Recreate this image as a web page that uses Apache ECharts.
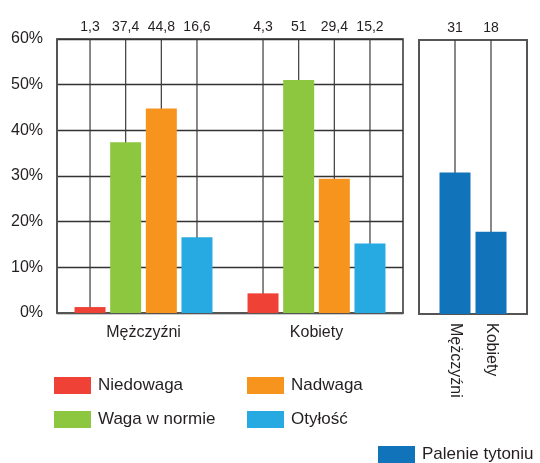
<!DOCTYPE html>
<html>
<head>
<meta charset="utf-8">
<script src="https://cdn.jsdelivr.net/npm/echarts@6/dist/echarts.min.js"></script>
<style>
  html, body { margin: 0; padding: 0; background: #fff; }
  #chart { width: 540px; height: 463px; }
</style>
</head>
<body>
<div id="chart"></div>
<script>
// Groups and weight categories (percent)
const groups = ['Mężczyźni', 'Kobiety'];
const weightNames = ['Niedowaga', 'Waga w normie', 'Nadwaga', 'Otyłość'];
const niedowaga = [1.3, 4.3];
const wagaWNormie = [37.4, 51];
const nadwaga = [44.8, 29.4];
const otylosc = [16.6, 15.2];

// Smoking panel (percent)
const smokingName = 'Palenie tytoniu';
const smokingGroups = ['Mężczyźni', 'Kobiety'];
const palenie = [31, 18];

// Value axis
const yMin = 0;
const yMax = 60;
const yStep = 10;

const weightValues = [niedowaga, wagaWNormie, nadwaga, otylosc];
const weightColors = ['#EF4136', '#8DC63F', '#F7941D', '#27AAE1'];
const smokingColor = '#1173BA';
const FONT = "'Liberation Sans', Arial, sans-serif";
const TEXT = '#231F20';
const BAR_W = 31;
const BAR_GAP = 0.15;
const SLOT = BAR_W * (1 + BAR_GAP);

const fmt = v => String(v).replace('.', ',');

// leader lines from the top labels down to each bar
const leaderData = [];
groups.forEach((g, gi) => {
  weightValues.forEach((arr, si) => leaderData.push([gi, si, arr[gi]]));
});

function leaderItem(offsetFn, yTopMax) {
  return function (params, api) {
    const cat = api.value(0);
    const s = api.value(1);
    const v = api.value(2);
    const base = api.coord([cat, yMin]);
    const top = api.coord([cat, yTopMax]);
    const x = base[0] + offsetFn(s);
    return {
      type: 'group',
      children: [
        {
          type: 'line',
          shape: { x1: x, y1: top[1], x2: x, y2: base[1] },
          style: { stroke: '#3a3a3a', lineWidth: 1.2 }
        },
        {
          type: 'text',
          style: {
            text: fmt(v), x: x, y: top[1] - 12,
            fill: TEXT, fontSize: 14, fontFamily: FONT,
            align: 'center', verticalAlign: 'middle'
          }
        }
      ]
    };
  };
}

// smoking panel: index 0 and 3 are padding slots on the edges
const smokingCats = [''].concat(smokingGroups, ['']);
const smokingBars = [null].concat(palenie, [null]);
const smokingLeader = palenie.map((v, i) => [i + 1, 0, v]);

const series = weightNames.map((name, si) => ({
  name: name,
  type: 'bar',
  xAxisIndex: 0,
  yAxisIndex: 0,
  data: weightValues[si],
  barWidth: BAR_W,
  barGap: (BAR_GAP * 100) + '%',
  itemStyle: { color: weightColors[si] },
  z: 3
}));

series.push({
  type: 'custom',
  xAxisIndex: 0,
  yAxisIndex: 0,
  data: leaderData,
  renderItem: leaderItem(s => (s - 1.5) * SLOT, yMax),
  clip: false,
  silent: true,
  z: 2
});

series.push({
  name: smokingName,
  type: 'bar',
  xAxisIndex: 1,
  yAxisIndex: 1,
  data: smokingBars,
  barWidth: BAR_W,
  itemStyle: { color: smokingColor },
  z: 3
});

series.push({
  type: 'custom',
  xAxisIndex: 1,
  yAxisIndex: 1,
  data: smokingLeader,
  renderItem: leaderItem(() => 0, yMax),
  clip: false,
  silent: true,
  z: 2
});

const legendBase = {
  orient: 'vertical',
  icon: 'rect',
  padding: 0,
  itemWidth: 37,
  itemHeight: 17,
  itemGap: 17,
  selectedMode: false,
  textStyle: { color: TEXT, fontSize: 17, fontFamily: FONT, padding: [0, 0, 0, 2] }
};

const option = {
  animation: false,
  textStyle: { fontFamily: FONT },
  grid: [
    { left: 57, top: 39, width: 346, height: 274, show: true, borderColor: '#333', borderWidth: 1.5 },
    { left: 419, top: 40, width: 108, height: 274, show: true, borderColor: '#555', borderWidth: 2 }
  ],
  xAxis: [
    {
      gridIndex: 0,
      type: 'category',
      data: groups,
      axisLine: { show: true, lineStyle: { color: '#555', width: 2 } },
      axisTick: { show: false },
      axisLabel: { color: TEXT, fontSize: 16, fontFamily: FONT, margin: 12 }
    },
    {
      gridIndex: 1,
      type: 'category',
      data: smokingCats,
      boundaryGap: false,
      axisLine: { show: true, lineStyle: { color: '#555', width: 2 } },
      axisTick: { show: false },
      axisLabel: { color: TEXT, fontSize: 16, fontFamily: FONT, rotate: -90, margin: 9, interval: 0 }
    }
  ],
  yAxis: [
    {
      gridIndex: 0,
      type: 'value',
      min: yMin,
      max: yMax,
      interval: yStep,
      axisLine: { show: true, lineStyle: { color: '#555', width: 2 } },
      axisTick: { show: false },
      axisLabel: { color: TEXT, fontSize: 16, fontFamily: FONT, margin: 14, formatter: '{value}%' },
      splitLine: { show: true, lineStyle: { color: '#333', width: 1.3 } }
    },
    {
      gridIndex: 1,
      type: 'value',
      min: yMin,
      max: yMax,
      interval: yStep,
      axisLine: { show: false },
      axisTick: { show: false },
      axisLabel: { show: false },
      splitLine: { show: false }
    }
  ],
  legend: [
    Object.assign({}, legendBase, { left: 54, top: 377, data: ['Niedowaga', 'Waga w normie'] }),
    Object.assign({}, legendBase, { left: 247, top: 377, data: ['Nadwaga', 'Otyłość'] }),
    Object.assign({}, legendBase, { left: 378, top: 446, data: [smokingName] })
  ],
  series: series
};

const chart = echarts.init(document.getElementById('chart'), null, { renderer: 'canvas' });
chart.setOption(option);
</script>
</body>
</html>
